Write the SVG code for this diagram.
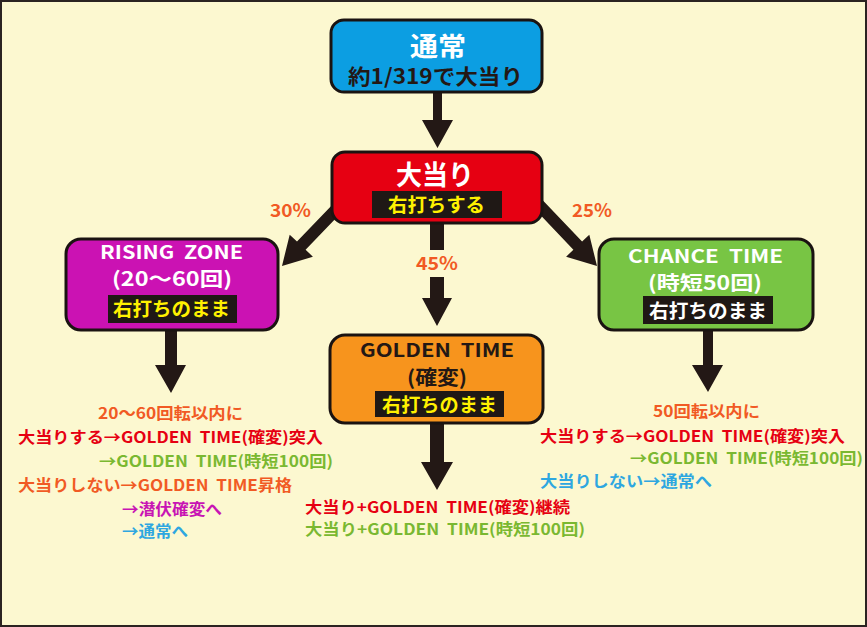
<svg xmlns="http://www.w3.org/2000/svg" width="867" height="627" viewBox="0 0 867 627">
<style>
text{font-family:"Noto Sans CJK JP","Noto Sans",sans-serif;font-weight:bold;white-space:pre}
.node{stroke:#1a1311;stroke-width:3}
.lbl{fill:#1f1815}
.arr{fill:#231815}
.w{fill:#ffffff}
.y{fill:#fff100}
.k{fill:#231815}
.t{font-size:15.5px}
.or{fill:#f15a24}
.rd{fill:#e60012}
.gr{fill:#7ab831}
.mg{fill:#c814b4}
.bl{fill:#2ea7e0}
.pc{font-size:18px;fill:#f15a24}
</style>
<rect x="1" y="1" width="865" height="625" fill="#fcf8d0" stroke="#2b2321" stroke-width="2"/>
<g id="connectors">
<polygon class="arr" points="433,90 433,120 422,120 437.5,148 453,120 442,120 442,90"/>
<polygon class="arr" points="430,220 444,220 444,250 430,250"/>
<polygon class="arr" points="430,277 430,298 422,298 437,326 452,298 444,298 444,277"/>
<polygon class="arr" points="345.6,190.9 297,241.6 289.7,234.7 282,266 312.9,256.7 305.6,249.8 354.4,199.1"/>
<polygon class="arr" points="533.9,190.9 582.1,241.6 589.3,234.7 597,266 566.1,256.7 573.4,249.8 525.2,199.1"/>
<polygon class="arr" points="165,327 165,365 155,365 171,393 186,365 177,365 177,327"/>
<polygon class="arr" points="430,420 430,462 421,462 437,490 453,462 444,462 444,420"/>
<polygon class="arr" points="703,327 703,365 692,365 708,392 723,365 713,365 713,327"/>
<text class="pc" x="270" y="217" textLength="41" lengthAdjust="spacingAndGlyphs">30%</text>
<text class="pc" x="572" y="217" textLength="40" lengthAdjust="spacingAndGlyphs">25%</text>
<text class="pc" x="416" y="270" textLength="42" lengthAdjust="spacingAndGlyphs">45%</text>
</g>
<g id="node-normal">
<rect class="node" x="331" y="20" width="211" height="72" rx="13" fill="#0c9ee2"/>
<text class="w" x="410" y="56" font-size="26" textLength="56" lengthAdjust="spacingAndGlyphs">通常</text>
<text class="k" x="348" y="84" font-size="21" textLength="175" lengthAdjust="spacingAndGlyphs">約1/319で大当り</text>
</g>
<g id="node-jackpot">
<rect class="node" x="332" y="152" width="210" height="71" rx="13" fill="#e60012"/>
<text class="w" x="396" y="185" font-size="27" textLength="78" lengthAdjust="spacingAndGlyphs">大当り</text>
<rect class="lbl" x="372" y="191" width="130" height="27"/>
<text class="y" x="388" y="212" font-size="19" textLength="97" lengthAdjust="spacingAndGlyphs">右打ちする</text>
</g>
<g id="node-rising">
<rect class="node" x="66" y="239" width="212" height="91" rx="15" fill="#cb12b3"/>
<text class="w" x="100" y="259" font-size="18.5" textLength="143" lengthAdjust="spacingAndGlyphs">RISING  ZONE</text>
<text class="w" x="112" y="286" font-size="19.5" textLength="120" lengthAdjust="spacingAndGlyphs">(20〜60回)</text>
<rect class="lbl" x="108" y="295" width="129" height="28"/>
<text class="y" x="113" y="316" font-size="19" textLength="117" lengthAdjust="spacingAndGlyphs">右打ちのまま</text>
</g>
<g id="node-golden">
<rect class="node" x="330" y="335" width="213" height="88" rx="15" fill="#f7941d"/>
<text class="k" x="360" y="357" font-size="19" textLength="154" lengthAdjust="spacingAndGlyphs">GOLDEN  TIME</text>
<text class="k" x="407" y="385" font-size="20" textLength="60" lengthAdjust="spacingAndGlyphs">(確変)</text>
<rect class="lbl" x="375" y="391" width="129" height="26"/>
<text class="y" x="382" y="412" font-size="19" textLength="115" lengthAdjust="spacingAndGlyphs">右打ちのまま</text>
</g>
<g id="node-chance">
<rect class="node" x="599" y="239" width="214" height="91" rx="15" fill="#78c544"/>
<text class="w" x="628" y="263" font-size="18.5" textLength="155" lengthAdjust="spacingAndGlyphs">CHANCE  TIME</text>
<text class="w" x="648" y="290" font-size="19.5" textLength="114" lengthAdjust="spacingAndGlyphs">(時短50回)</text>
<rect class="lbl" x="643" y="296" width="130" height="28"/>
<text class="w" x="649" y="318" font-size="19" textLength="118" lengthAdjust="spacingAndGlyphs">右打ちのまま</text>
</g>
<g id="notes-rising">
<text class="t or" x="98" y="419" textLength="145" lengthAdjust="spacingAndGlyphs">20〜60回転以内に</text>
<text class="t rd" x="18" y="443" textLength="305" lengthAdjust="spacingAndGlyphs">大当りする→GOLDEN  TIME(確変)突入</text>
<text class="t gr" x="99" y="467" textLength="234" lengthAdjust="spacingAndGlyphs">→GOLDEN  TIME(時短100回)</text>
<text class="t or" x="18" y="491" textLength="274" lengthAdjust="spacingAndGlyphs">大当りしない→GOLDEN  TIME昇格</text>
<text class="t mg" x="122" y="515" textLength="100" lengthAdjust="spacingAndGlyphs">→潜伏確変へ</text>
<text class="t bl" x="122" y="537" textLength="66" lengthAdjust="spacingAndGlyphs">→通常へ</text>
</g>
<g id="notes-golden">
<text class="t rd" x="305" y="513" textLength="265" lengthAdjust="spacingAndGlyphs">大当り+GOLDEN  TIME(確変)継続</text>
<text class="t gr" x="305" y="535" textLength="280" lengthAdjust="spacingAndGlyphs">大当り+GOLDEN  TIME(時短100回)</text>
</g>
<g id="notes-chance">
<text class="t or" x="653" y="417" textLength="107" lengthAdjust="spacingAndGlyphs">50回転以内に</text>
<text class="t rd" x="540" y="442" textLength="305" lengthAdjust="spacingAndGlyphs">大当りする→GOLDEN  TIME(確変)突入</text>
<text class="t gr" x="630" y="464" textLength="233" lengthAdjust="spacingAndGlyphs">→GOLDEN  TIME(時短100回)</text>
<text class="t bl" x="540" y="487" textLength="172" lengthAdjust="spacingAndGlyphs">大当りしない→通常へ</text>
</g>
</svg>
